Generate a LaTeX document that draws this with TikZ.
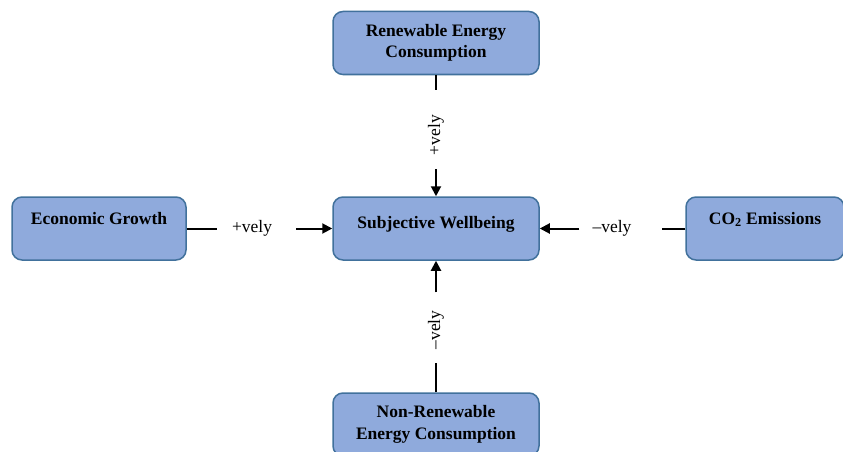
\documentclass[tikz,border=0pt]{standalone}
\usepackage{fontspec}
\setmainfont{Liberation Serif}
\usetikzlibrary{arrows.meta}

\definecolor{boxfill}{HTML}{8FAADC}
\definecolor{boxline}{HTML}{41719C}

\tikzset{
  box/.style={draw=boxline, fill=boxfill, line width=1.5pt, rounded corners=10pt,
    minimum height=63pt, inner ysep=8pt, align=center,
    font=\fontsize{17.5}{21.5}\selectfont\bfseries},
  onerow/.style={text height=19pt, text depth=28pt},
  lab/.style={inner sep=0pt, font=\fontsize{17.5}{21.5}\selectfont},
  link/.style={line width=2pt}
}

\begin{document}
\begin{tikzpicture}[x=1pt,y=1pt,>={Triangle[length=10pt,width=10pt]}]
        \clip (0,0) rectangle (843,-452);
        % boxes
        \node (rec) [box, minimum width=206pt] at (436,-43) {Renewable Energy\\Consumption};
        \node (eg) [box, onerow, minimum width=174pt] at (99,-228.5) {Economic Growth};
        \node (sw) [box, minimum width=206pt, text height=23pt, text depth=24pt] at (436,-228.5) {Subjective Wellbeing};
        \node (co2) [box, onerow, minimum width=158pt] at (765,-228.5) {CO\textsubscript{2} Emissions};
        \node (nrec) [box, minimum width=206pt] at (436,-424.5) {Non-Renewable\\Energy Consumption};
        % labels
        \node (lrec) [lab, rotate=90] at (436,-135) {+vely};
        \node (leg) [lab] at (252,-228.5) {+vely};
        \node (lco2) [lab] at (612,-228.5) {–vely};
        \node (lnrec) [lab, rotate=90] at (436,-330) {–vely};
        % links
        \draw[link, shorten >=25pt] (rec) -- (lrec);
        \draw[link, ->, shorten <=14pt] (lrec) -- (sw);
        \draw[link, shorten >=15pt] (eg) -- (leg);
        \draw[link, ->, shorten <=24pt] (leg) -- (sw);
        \draw[link, shorten >=30pt] (co2) -- (lco2);
        \draw[link, ->, shorten <=13pt] (lco2) -- (sw);
        \draw[link, shorten >=13pt] (nrec) -- (lnrec);
        \draw[link, ->, shorten <=18pt] (lnrec) -- (sw);
    \end{tikzpicture}
\end{document}
